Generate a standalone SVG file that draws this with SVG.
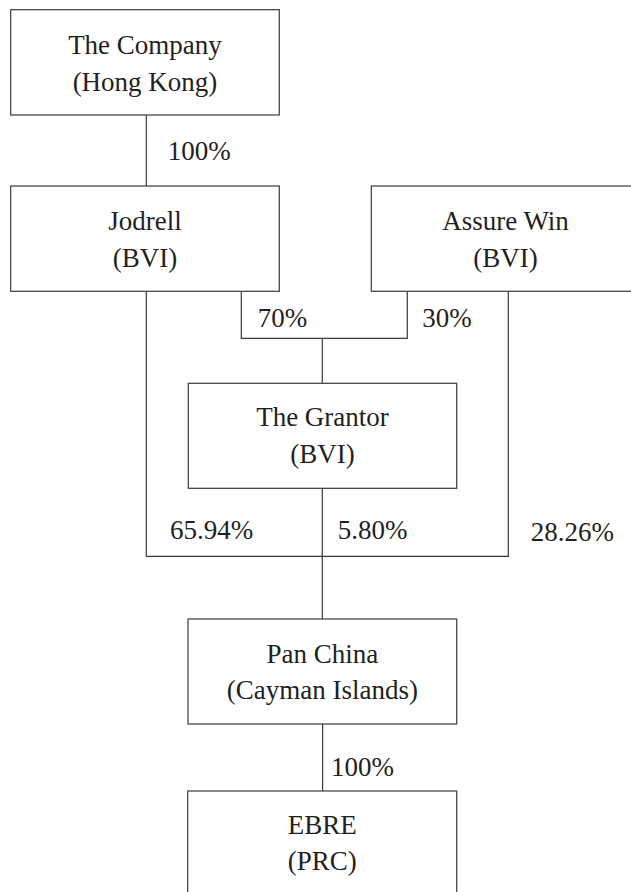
<svg xmlns="http://www.w3.org/2000/svg" width="631" height="892" viewBox="0 0 631 892">
<style>
.box{fill:#fff;stroke:#3a3a3a;stroke-width:1.2}
.ln{fill:none;stroke:#3a3a3a;stroke-width:1.2}
text{font-family:"Liberation Serif","Times New Roman",serif;font-size:27px;fill:#231f20}
.c{text-anchor:middle}
</style>
<rect width="631" height="892" fill="#fff"/>
<g id="connectors">
<line class="ln" x1="146.3" y1="115" x2="146.3" y2="186"/>
<polyline class="ln" points="241.3,291.3 241.3,338.3 407.3,338.3 407.3,291.3"/>
<line class="ln" x1="322.3" y1="338.3" x2="322.3" y2="383.3"/>
<polyline class="ln" points="146.3,291.3 146.3,556.3 508.3,556.3 508.3,291.3"/>
<line class="ln" x1="322.3" y1="488.3" x2="322.3" y2="619"/>
<line class="ln" x1="322.6" y1="724" x2="322.6" y2="791"/>
<text x="167.7" y="160">100%</text>
<text x="257.7" y="326.7">70%</text>
<text x="422.3" y="326.7">30%</text>
<text x="170" y="539">65.94%</text>
<text x="337.7" y="539">5.80%</text>
<text x="530.7" y="541">28.26%</text>
<text x="331" y="776">100%</text>
</g>
<g id="company">
<rect class="box" x="10.7" y="9.7" width="268.6" height="105.3"/>
<text class="c" x="145" y="53.5">The Company</text>
<text class="c" x="145" y="90.5">(Hong Kong)</text>
</g>
<g id="jodrell">
<rect class="box" x="10.7" y="186" width="268.6" height="105.3"/>
<text class="c" x="145" y="229.5">Jodrell</text>
<text class="c" x="145" y="266.5">(BVI)</text>
</g>
<g id="assurewin">
<rect class="box" x="371.3" y="186" width="268.6" height="105.3"/>
<text class="c" x="505.5" y="229.5">Assure Win</text>
<text class="c" x="505.5" y="266.5">(BVI)</text>
</g>
<g id="grantor">
<rect class="box" x="188.3" y="383.3" width="268.4" height="105"/>
<text class="c" x="322.5" y="426">The Grantor</text>
<text class="c" x="322.5" y="463">(BVI)</text>
</g>
<g id="panchina">
<rect class="box" x="188" y="619" width="268.7" height="105"/>
<text class="c" x="322.4" y="662.7">Pan China</text>
<text class="c" x="322.4" y="699">(Cayman Islands)</text>
</g>
<g id="ebre">
<rect class="box" x="187.7" y="791" width="269" height="105.3"/>
<text class="c" x="322.2" y="833.5">EBRE</text>
<text class="c" x="322.2" y="870">(PRC)</text>
</g>
</svg>
